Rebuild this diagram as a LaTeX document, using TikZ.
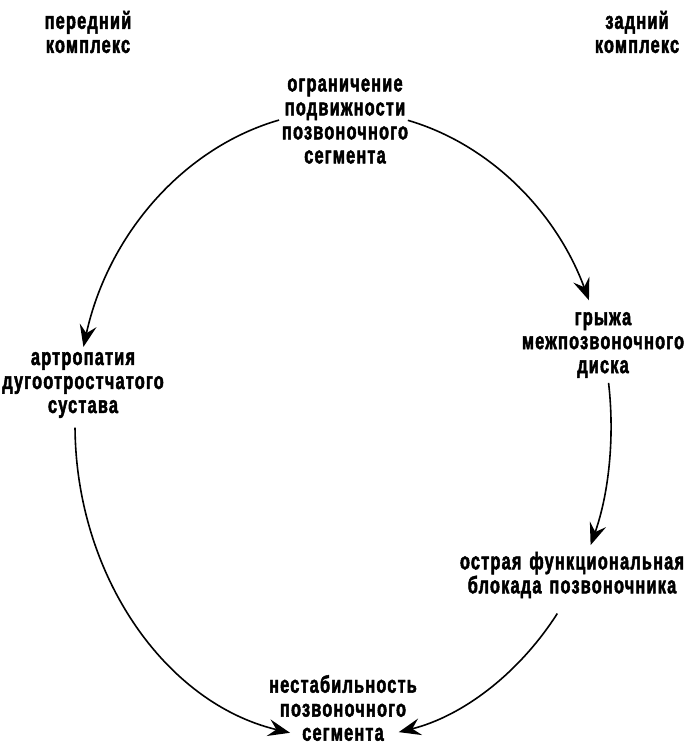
\documentclass[tikz,border=0pt]{standalone}
\usepackage{fontspec}
\newfontfamily\condfont[FakeStretch=0.68, FakeBold=2, LetterSpace=5, WordSpace=1.4]{Liberation Sans Bold}
\usetikzlibrary{arrows.meta}
\begin{document}
\begin{tikzpicture}[x=1pt,y=1pt,
  txt/.style={font=\condfont\fontsize{24}{24}\selectfont, align=center, inner sep=0pt},
  arr/.style={line width=1.6pt, -{Stealth[length=22pt,width=17pt,inset=8pt]}}]
\useasboundingbox[fill=white] (0,0) rectangle (686,746);
% text blocks
\node[txt] (pk) at (88,714) {передний\\комплекс};
\node[txt] (zk) at (637,714) {задний\\комплекс};
\node[txt] (top) at (345,625) {ограничение\\подвижности\\позвоночного\\сегмента};
\node[txt] (left) at (83,361) {артропатия\\дугоотростчатого\\сустава};
\node[txt] (right) at (603,401) {грыжа\\межпозвоночного\\диска};
\node[txt] (block) at (572,171) {острая функциональная\\блокада позвоночника};
\node[txt] (bot) at (343,38) {нестабильность\\позвоночного\\сегмента};
% connector end points on the ellipse (centre 343,321; radii 268, 314)
\coordinate (topL) at ([shift={(343,321)}]103.8:268pt and 314pt);
\coordinate (topR) at ([shift={(343,321)}]76:268pt and 314pt);
\coordinate (rightS) at ([shift={(343,321)}]7.7:268pt and 314pt);
\coordinate (blockS) at ([shift={(343,321)}]-36.9:268pt and 314pt);
\coordinate (leftS) at ([shift={(343,321)}]180.5:268pt and 314pt);
% connectors
\draw[arr] (topL) arc[start angle=103.8, end angle=165.6, x radius=268pt, y radius=314pt];
\draw[arr] (topR) arc[start angle=76, end angle=23.4, x radius=268pt, y radius=314pt];
\draw[arr] (rightS) arc[start angle=7.7, end angle=-22.5, x radius=268pt, y radius=314pt];
\draw[arr] (blockS) arc[start angle=-36.9, end angle=-78, x radius=268pt, y radius=314pt];
\draw[arr] (leftS) arc[start angle=180.5, end angle=258.6, x radius=268pt, y radius=314pt];
\end{tikzpicture}
\end{document}
